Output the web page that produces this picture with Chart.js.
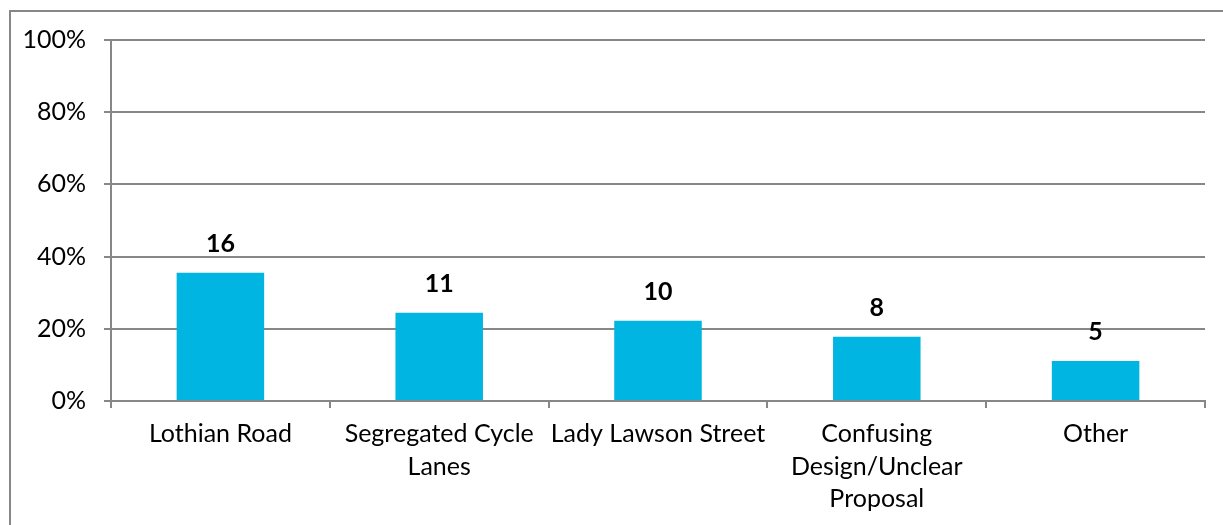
<!DOCTYPE html>
<html>
<head>
<meta charset="utf-8">
<script src="https://cdn.jsdelivr.net/npm/chart.js@4/dist/chart.umd.min.js"></script>
<style>
  html, body { margin: 0; padding: 0; background: #fff; }
  #wrap { position: relative; width: 1223px; height: 525px; overflow: hidden; }
  #frame { position: absolute; left: 9px; top: 10px; width: 1300px; height: 600px;
           border-left: 2px solid #878787; border-top: 2px solid #878787; }
  canvas { position: absolute; left: 0; top: 0; }
</style>
</head>
<body>
<div id="wrap">
  <div id="frame"></div>
  <canvas id="myChart" width="1223" height="525"></canvas>
</div>
<script>
// responses per theme, out of all respondents
var categories = [
  'Lothian Road',
  ['Segregated Cycle', 'Lanes'],
  'Lady Lawson Street',
  ['Confusing', 'Design/Unclear', 'Proposal'],
  'Other'
];
var counts = [16, 11, 10, 8, 5];
var respondents = 45;
var yTicks = [0, 20, 40, 60, 80, 100];

var percents = counts.map(function(c) { return c / respondents * 100; });

var fontFamily = 'Lato, "Open Sans", sans-serif';
var grey = '#878787';

// write the raw count above each bar
var countLabels = {
  id: 'countLabels',
  afterDatasetsDraw: function(chart) {
    var ctx = chart.ctx;
    var meta = chart.getDatasetMeta(0);
    ctx.save();
    ctx.fillStyle = '#000';
    ctx.font = 'bold 25px ' + fontFamily;
    ctx.textAlign = 'center';
    ctx.textBaseline = 'bottom';
    meta.data.forEach(function(bar, i) {
      ctx.fillText(counts[i], bar.x, bar.y - 16);
    });
    ctx.restore();
  }
};

var ctx = document.getElementById('myChart').getContext('2d');
var myChart = new Chart(ctx, {
  type: 'bar',
  data: {
    labels: categories,
    datasets: [{
      data: percents,
      backgroundColor: '#00b5e2',
      borderWidth: 0,
      categoryPercentage: 1,
      barPercentage: 0.4
    }]
  },
  options: {
    responsive: false,
    animation: false,
    layout: { padding: { top: 40, right: 18, left: 0, bottom: 0 } },
    plugins: {
      legend: { display: false },
      tooltip: { enabled: false }
    },
    scales: {
      x: {
        grid: {
          drawOnChartArea: false,
          drawTicks: true,
          tickLength: 7,
          color: grey,
          lineWidth: 2
        },
        border: { display: true, color: grey, width: 2 },
        ticks: {
          color: '#000',
          font: { family: fontFamily, size: 25, lineHeight: 1.3 },
          padding: 10,
          maxRotation: 0,
          autoSkip: false
        },
        afterFit: function(scale) { scale.height = 124; }
      },
      y: {
        min: 0,
        max: 100,
        afterBuildTicks: function(scale) {
          scale.ticks = yTicks.map(function(v) { return { value: v }; });
        },
        grid: {
          color: grey,
          lineWidth: 2,
          tickLength: 7
        },
        border: { display: true, color: grey, width: 2 },
        ticks: {
          color: '#000',
          font: { family: fontFamily, size: 25 },
          padding: 18,
          callback: function(v) { return v + '%'; }
        },
        afterFit: function(scale) { scale.width = 111; }
      }
    }
  },
  plugins: [countLabels]
});
</script>
</body>
</html>
